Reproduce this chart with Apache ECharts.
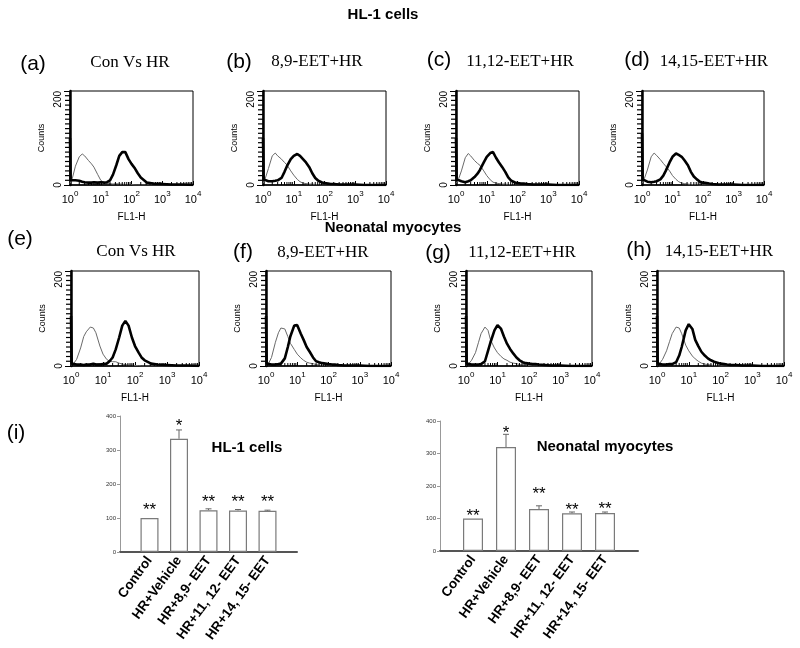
<!DOCTYPE html>
<html>
<head>
<meta charset="utf-8">
<script src="https://cdn.jsdelivr.net/npm/echarts@6/dist/echarts.min.js"></script>
<style>
html, body { margin: 0; padding: 0; background: #fff; }
#main { width: 800px; height: 648px; }
</style>
</head>
<body>
<div id="main"></div>
<script>
var fl1 = [1, 1.05, 1.2, 1.5, 2, 2.5, 3, 4, 5, 6, 8, 10, 13, 16, 20, 25, 32, 40, 50, 63, 80, 100, 130, 160, 200, 320, 500, 1000, 2000, 5000, 10000];

var panelLetters = ['(a)', '(b)', '(c)', '(d)', '(e)', '(f)', '(g)', '(h)'];
var panelTitles = ['Con Vs HR', '8,9-EET+HR', '11,12-EET+HR', '14,15-EET+HR',
                   'Con Vs HR', '8,9-EET+HR', '11,12-EET+HR', '14,15-EET+HR'];

// thin gray curve (control) per panel
var aThin = [3, 6, 15, 40, 60, 66, 62, 52, 45, 38, 22, 10, 5, 3, 3, 2, 3, 2, 2, 1, 1, 1, 0, 0, 0, 0, 0, 0, 0, 0, 0];
var bThin = [3, 6, 15, 35, 62, 68, 62, 55, 48, 43, 30, 21, 12, 7, 4, 3, 2, 2, 1, 1, 0, 0, 0, 0, 0, 0, 0, 0, 0, 0, 0];
var cThin = [3, 5, 12, 30, 58, 67, 62, 52, 46, 42, 30, 20, 11, 6, 4, 3, 2, 2, 1, 1, 0, 0, 0, 0, 0, 0, 0, 0, 0, 0, 0];
var dThin = [3, 6, 14, 32, 60, 68, 63, 54, 46, 40, 30, 20, 12, 7, 4, 3, 2, 1, 1, 1, 0, 0, 0, 0, 0, 0, 0, 0, 0, 0, 0];
var eThin = [2, 3, 5, 14, 38, 62, 72, 82, 80, 70, 42, 25, 14, 10, 9, 9, 6, 4, 3, 2, 2, 1, 1, 0, 0, 0, 0, 0, 0, 0, 0];
var fThin = [2, 3, 5, 18, 50, 70, 80, 78, 62, 48, 35, 25, 17, 12, 8, 6, 5, 3, 2, 1, 1, 0, 0, 0, 0, 0, 0, 0, 0, 0, 0];
var gThin = [2, 3, 4, 12, 28, 50, 68, 82, 75, 55, 38, 28, 20, 15, 12, 8, 6, 5, 3, 2, 1, 1, 0, 0, 0, 0, 0, 0, 0, 0, 0];
var hThin = [2, 3, 5, 14, 32, 52, 68, 82, 80, 68, 44, 32, 21, 15, 10, 6, 4, 3, 2, 1, 1, 0, 0, 0, 0, 0, 0, 0, 0, 0, 0];

// thick black curve (HR treated) per panel
var aThick = [100, 10, 8, 10, 9, 7, 6, 5, 5, 6, 5, 6, 5, 6, 10, 22, 42, 62, 70, 70, 55, 45, 35, 25, 16, 5, 3, 2, 1, 1, 0];
var bThick = [100, 12, 10, 8, 8, 9, 10, 15, 28, 40, 55, 62, 66, 62, 55, 48, 38, 25, 15, 9, 6, 4, 3, 2, 2, 1, 1, 1, 0, 0, 0];
var cThick = [100, 12, 10, 8, 6, 8, 10, 17, 24, 32, 48, 60, 68, 70, 58, 48, 38, 28, 16, 9, 6, 4, 3, 3, 2, 1, 1, 1, 0, 0, 0];
var dThick = [110, 12, 8, 7, 6, 7, 8, 12, 20, 30, 48, 60, 67, 64, 60, 52, 42, 28, 18, 12, 7, 5, 4, 3, 2, 1, 1, 1, 0, 0, 0];
var eThick = [105, 5, 3, 3, 3, 2, 3, 3, 5, 3, 3, 4, 5, 10, 18, 35, 60, 85, 95, 85, 60, 42, 28, 18, 12, 5, 3, 2, 1, 1, 0];
var fThick = [105, 5, 3, 3, 3, 4, 5, 16, 40, 62, 85, 86, 68, 55, 40, 30, 18, 10, 8, 6, 5, 4, 3, 3, 2, 1, 1, 1, 0, 0, 0];
var gThick = [105, 5, 3, 3, 3, 3, 4, 10, 32, 50, 75, 86, 78, 62, 47, 36, 26, 18, 12, 8, 6, 5, 4, 4, 3, 2, 1, 1, 0, 0, 0];
var hThick = [105, 5, 3, 3, 3, 4, 4, 8, 22, 40, 75, 88, 78, 55, 42, 30, 22, 16, 12, 9, 7, 5, 4, 3, 2, 2, 1, 1, 0, 0, 0];

var thinCurves = [aThin, bThin, cThin, dThin, eThin, fThin, gThin, hThin];
var thickCurves = [aThick, bThick, cThick, dThick, eThick, fThick, gThick, hThick];

// bar charts (i)
var groups = ['Control', 'HR+Vehicle', 'HR+8,9- EET', 'HR+11, 12- EET', 'HR+14, 15- EET'];
var hlMean = [100, 333, 123, 122, 121];
var hlErr = [0, 26, 4, 3, 2];
var hlStars = ['**', '*', '**', '**', '**'];
var hlStarAt = [134, 380, 159, 159, 159];
var neoMean = [100, 320, 129, 116, 117];
var neoErr = [0, 39, 10, 4, 3];
var neoStars = ['**', '*', '**', '**', '**'];
var neoStarAt = [118, 374, 187, 137, 141];
var barTicks = [0, 100, 200, 300, 400];

// minor tick values of the histogram axes (log decades 2..9, counts every 10)
var logMinor = [];
for (var dec = 1; dec <= 1000; dec *= 10) {
	for (var m = 2; m <= 9; m++) logMinor.push(m * dec);
}
var countMinor = [];
for (var c = 10; c < 200; c += 10) countMinor.push(c);

// layout of the histogram boxes (px)
var boxes = [
	{ left: 70, top: 91, width: 123, height: 94 },
	{ left: 263, top: 91, width: 123, height: 94 },
	{ left: 456, top: 91, width: 123, height: 94 },
	{ left: 642, top: 91, width: 122, height: 94 },
	{ left: 71, top: 271, width: 128, height: 95 },
	{ left: 266, top: 271, width: 125, height: 95 },
	{ left: 466, top: 271, width: 126, height: 95 },
	{ left: 657, top: 271, width: 127, height: 95 }
];
var letterPos = [[33, 64], [239, 62], [439, 60], [637, 60], [20, 239], [243, 252], [438, 253], [639, 250]];
var titlePos = [[130, 63], [317, 62], [520, 62], [714, 62], [136, 252], [323, 253], [522, 253], [719, 252]];

var sans = 'Liberation Sans, Arial, sans-serif';
var serif = 'Liberation Serif, Times New Roman, serif';

var grids = [], xAxes = [], yAxes = [], series = [], graphics = [];

boxes.forEach(function(b, i) {
	grids.push({ left: b.left, top: b.top, width: b.width, height: b.height,
		show: true, borderColor: '#000', borderWidth: 1 });
	xAxes.push({
		gridIndex: i, type: 'log', logBase: 10, min: 1, max: 10000,
		name: 'FL1-H', nameLocation: 'middle', nameGap: 27,
		nameTextStyle: { fontFamily: sans, fontSize: 10, color: '#000' },
		axisLine: { lineStyle: { color: '#000', width: 1.5 } },
		axisTick: { show: true, inside: true, length: 4, lineStyle: { color: '#000' } },
		splitLine: { show: false },
		axisLabel: {
			margin: 5,
			formatter: function(v) {
				return '{b|10}{s|' + Math.round(Math.log10(v)) + '}';
			},
			rich: {
				b: { fontFamily: sans, fontSize: 11, color: '#000', verticalAlign: 'bottom' },
				s: { fontFamily: sans, fontSize: 8, color: '#000', verticalAlign: 'bottom', padding: [0, 0, 7, 0] }
			}
		}
	});
	yAxes.push({
		gridIndex: i, type: 'value', min: 0, max: 200, splitNumber: 1,
		name: 'Counts', nameLocation: 'middle', nameGap: 24, nameRotate: 90,
		nameTextStyle: { fontFamily: sans, fontSize: 9, color: '#000' },
		axisLine: { show: true, lineStyle: { color: '#000', width: 2.5 } },
		axisTick: { show: true, length: 6, lineStyle: { color: '#000' } },
		splitLine: { show: false },
		axisLabel: { rotate: 90, margin: 7, fontFamily: sans, fontSize: 10, color: '#000', alignMaxLabel: 'right' }
	});
	series.push({
		type: 'line', xAxisIndex: i, yAxisIndex: i, showSymbol: false, silent: true,
		data: fl1.map(function(x, k) { return [x, thinCurves[i][k]]; }),
		lineStyle: { color: '#6a6a6a', width: 1 }
	});
	series.push({
		type: 'line', xAxisIndex: i, yAxisIndex: i, showSymbol: false, silent: true,
		data: fl1.map(function(x, k) { return [x, thickCurves[i][k]]; }),
		lineStyle: { color: '#000', width: 2.6 }
	});
	// minor ticks along the log x axis (inside) and the counts axis (outside)
	series.push({
		type: 'custom', xAxisIndex: i, yAxisIndex: i, silent: true, clip: false, z: 5,
		data: logMinor.map(function(v) { return [v, 0]; }),
		renderItem: function(params, api) {
			var p = api.coord([api.value(0), 0]);
			return { type: 'line', shape: { x1: p[0], y1: p[1], x2: p[0], y2: p[1] - 3 }, style: { stroke: '#000', lineWidth: 1 } };
		}
	});
	series.push({
		type: 'custom', xAxisIndex: i, yAxisIndex: i, silent: true, clip: false, z: 5,
		data: countMinor.map(function(v) { return [1, v]; }),
		renderItem: function(params, api) {
			var p = api.coord([1, api.value(1)]);
			return { type: 'line', shape: { x1: p[0], y1: p[1], x2: p[0] - 5, y2: p[1] }, style: { stroke: '#000', lineWidth: 1.2 } };
		}
	});
	graphics.push({ type: 'text', x: letterPos[i][0], y: letterPos[i][1],
		style: { text: panelLetters[i], font: '21px ' + sans, fill: '#000', align: 'center', verticalAlign: 'middle' } });
	graphics.push({ type: 'text', x: titlePos[i][0], y: titlePos[i][1],
		style: { text: panelTitles[i], font: '17px ' + serif, fill: '#000', align: 'center', verticalAlign: 'middle' } });
});

// bar charts
function addBarChart(gi, box, means, errs, stars, starAt, barWidth) {
	grids.push({ left: box.left, top: box.top, width: box.width, height: box.height });
	xAxes.push({
		gridIndex: gi, type: 'category', boundaryGap: false,
		data: [''].concat(groups).concat(['']),
		axisLine: { lineStyle: { color: '#555', width: 2 } },
		axisTick: { show: false },
		axisLabel: { interval: 0, rotate: 54, margin: 6, fontFamily: sans, fontSize: 13.5, fontWeight: 'bold', color: '#000' },
		splitLine: { show: false }
	});
	yAxes.push({
		gridIndex: gi, type: 'value', min: barTicks[0], max: barTicks[barTicks.length - 1], interval: 100,
		axisLine: { show: true, lineStyle: { color: '#999', width: 1 } },
		axisTick: { show: true, length: 3, lineStyle: { color: '#999' } },
		axisLabel: { margin: 4, fontFamily: sans, fontSize: 6, color: '#333' },
		splitLine: { show: false }
	});
	series.push({
		type: 'bar', xAxisIndex: gi, yAxisIndex: gi, barWidth: barWidth, silent: true,
		data: ['-'].concat(means).concat(['-']),
		itemStyle: { color: '#fff', borderColor: '#7a7a7a', borderWidth: 1.2 }
	});
	series.push({
		type: 'custom', xAxisIndex: gi, yAxisIndex: gi, silent: true, clip: false,
		data: means.map(function(m, k) { return [k + 1, m, errs[k]]; }),
		renderItem: function(params, api) {
			if (!api.value(2)) return null;
			var p0 = api.coord([api.value(0), api.value(1)]);
			var p1 = api.coord([api.value(0), api.value(1) + api.value(2)]);
			var st = { stroke: '#666', lineWidth: 1 };
			return { type: 'group', children: [
				{ type: 'line', shape: { x1: p0[0], y1: p0[1], x2: p1[0], y2: p1[1] }, style: st },
				{ type: 'line', shape: { x1: p1[0] - 3, y1: p1[1], x2: p1[0] + 3, y2: p1[1] }, style: st }
			] };
		}
	});
	series.push({
		type: 'custom', xAxisIndex: gi, yAxisIndex: gi, silent: true, clip: false,
		data: starAt.map(function(s, k) { return [k + 1, s]; }),
		renderItem: function(params, api) {
			var p = api.coord([api.value(0), api.value(1)]);
			return { type: 'text', x: p[0], y: p[1] + 4,
				style: { text: stars[params.dataIndex], font: '17px ' + sans, fill: '#000', align: 'center', verticalAlign: 'middle' } };
		}
	});
}
addBarChart(8, { left: 120, top: 416, width: 177, height: 136 }, hlMean, hlErr, hlStars, hlStarAt, 18);
addBarChart(9, { left: 440, top: 421, width: 198, height: 130 }, neoMean, neoErr, neoStars, neoStarAt, 20);

// headings
graphics.push({ type: 'text', x: 383, y: 15, style: { text: 'HL-1 cells', font: 'bold 15px ' + sans, fill: '#000', align: 'center', verticalAlign: 'middle' } });
graphics.push({ type: 'text', x: 393, y: 228, style: { text: 'Neonatal myocytes', font: 'bold 15px ' + sans, fill: '#000', align: 'center', verticalAlign: 'middle' } });
graphics.push({ type: 'text', x: 16, y: 433, style: { text: '(i)', font: '21px ' + sans, fill: '#000', align: 'center', verticalAlign: 'middle' } });
graphics.push({ type: 'text', x: 247, y: 448, style: { text: 'HL-1 cells', font: 'bold 15px ' + sans, fill: '#000', align: 'center', verticalAlign: 'middle' } });
graphics.push({ type: 'text', x: 605, y: 447, style: { text: 'Neonatal myocytes', font: 'bold 15px ' + sans, fill: '#000', align: 'center', verticalAlign: 'middle' } });

var myChart = echarts.init(document.getElementById('main'));
myChart.setOption({
	animation: false,
	backgroundColor: '#fff',
	grid: grids,
	xAxis: xAxes,
	yAxis: yAxes,
	series: series,
	graphic: graphics
});
</script>
</body>
</html>
